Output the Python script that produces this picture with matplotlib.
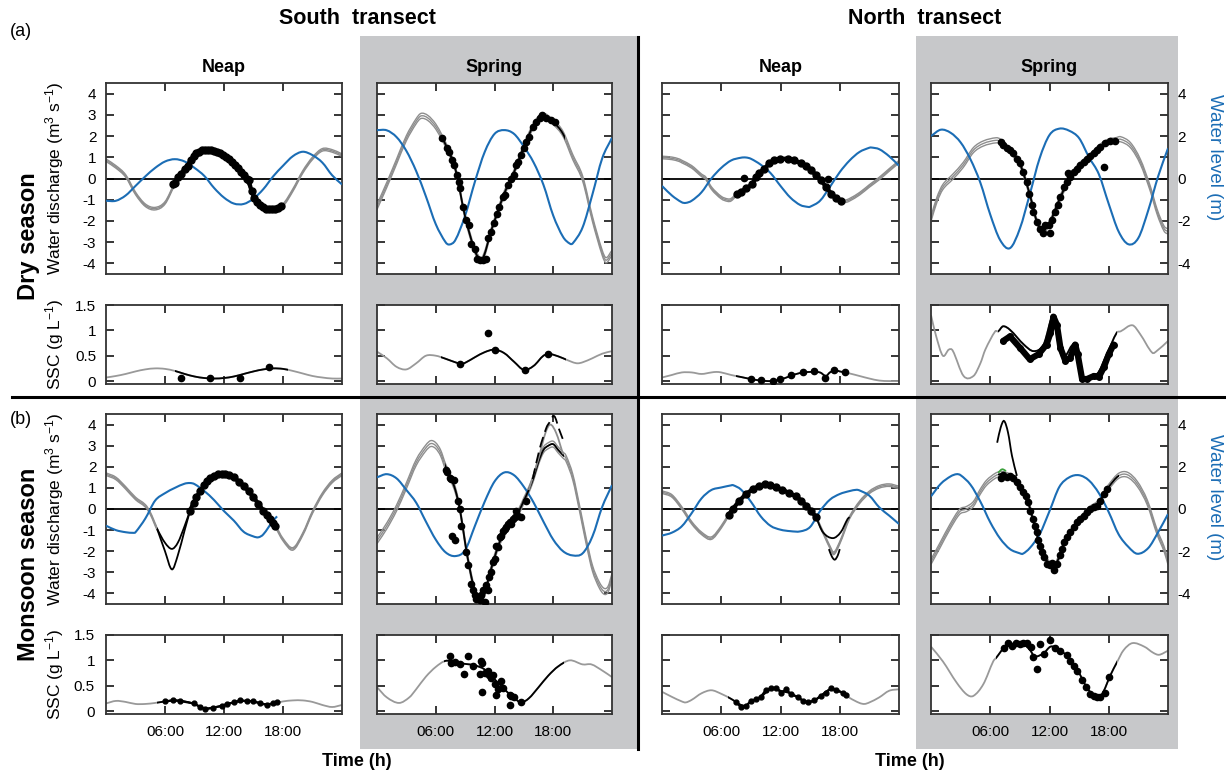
import numpy as np
import matplotlib
matplotlib.use("Agg")
import matplotlib.pyplot as plt
from matplotlib.patches import Rectangle, PathPatch
from matplotlib.path import Path
from matplotlib.lines import Line2D
from matplotlib.ticker import FuncFormatter

plt.rcParams['font.family'] = ['Liberation Sans', 'DejaVu Sans']
plt.rcParams['mathtext.default'] = 'regular'
plt.rcParams['axes.unicode_minus'] = False

hours = list(range(25))

# ---------------- dry season, south transect, neap ----------------
dsn_wl = [-1.05, -1.05, -0.8, -0.35, 0.1, 0.5, 0.8, 0.91, 0.8, 0.5, 0.12, -0.45, -0.9,
          -1.18, -1.2, -0.95, -0.5, 0.1, 0.6, 1.05, 1.26, 1.1, 0.75, 0.15, -0.28]
dsn_q = [0.86, 0.55, 0.12, -0.7, -1.26, -1.42, -1.15, -0.25, 0.5, 1.1, 1.35, 1.3, 1.05,
         0.7, 0.15, -0.75, -1.34, -1.44, -1.25, -0.55, 0.3, 0.95, 1.35, 1.3, 1.1]
dsn_win = (6.8, 17.9)
dsn_dots_t = [6.8, 7.0, 7.3, 7.6, 8.0, 8.3, 8.6, 8.9, 9.2, 9.5, 9.8, 10.1, 10.4, 10.7, 11.0,
              11.3, 11.6, 11.9, 12.2, 12.5, 12.8, 13.1, 13.4, 13.7, 14.0, 14.3, 14.5, 14.8,
              15.1, 15.4, 15.7, 16.0, 16.3, 16.6, 16.9, 17.2, 17.5, 17.8]
dsn_dots_q = [-0.28, -0.2, 0.05, 0.2, 0.45, 0.6, 0.85, 1.05, 1.2, 1.27, 1.32, 1.35, 1.36, 1.33,
              1.3, 1.25, 1.18, 1.1, 1.02, 0.92, 0.8, 0.65, 0.5, 0.3, 0.15, 0.0, -0.05, -0.6,
              -0.9, -1.1, -1.25, -1.35, -1.42, -1.46, -1.45, -1.42, -1.38, -1.28]
dsn_ssc = [0.07, 0.1, 0.14, 0.19, 0.23, 0.25, 0.24, 0.2, 0.14, 0.09, 0.06, 0.05, 0.06, 0.09,
           0.14, 0.19, 0.23, 0.25, 0.24, 0.2, 0.15, 0.1, 0.07, 0.05, 0.05]
dsn_swin = (7.0, 18.5)
dsn_sdots_t = [7.6, 10.6, 13.6, 16.6]
dsn_sdots = [0.07, 0.06, 0.07, 0.27]

# ---------------- dry season, south transect, spring ----------------
dss_wl_t = [0, 1, 2, 3, 4, 5, 6, 7, 7.4, 8, 9, 10, 11, 12, 13, 14, 15, 16, 17, 18, 19, 19.7,
            20, 21, 22, 23, 24]
dss_wl = [2.28, 2.27, 1.95, 1.3, 0.35, -0.85, -2.15, -3.0, -3.11, -2.9, -1.75, -0.15, 1.25,
          2.1, 2.28, 2.1, 1.5, 0.75, -0.3, -1.75, -2.75, -3.07, -3.05, -2.3, -0.75, 0.95, 1.92]
dss_q_t = [0, 1, 2, 3, 4, 4.5, 5.2, 6, 6.67, 7, 8, 9, 10, 10.65, 11.1, 11.5, 12, 13, 13.7, 14,
           15, 16, 16.9, 18, 19, 20, 21, 22, 23, 23.4, 24]
dss_q = [-1.34, -0.3, 0.8, 1.9, 2.7, 2.95, 2.85, 2.45, 1.9, 1.6, 0.45, -1.8, -3.4, -3.85, -3.4,
         -2.7, -2.0, -0.7, 0.0, 0.3, 1.5, 2.5, 2.95, 2.65, 2.1, 1.0, 0.0, -1.9, -3.5, -3.85, -3.5]
dss_win = (6.6, 19.25)
dss_dots_t = [6.67, 7.14, 7.4, 7.69, 7.9, 8.16, 8.37, 8.5, 8.78, 9.1, 9.35, 9.63, 9.97, 10.2,
              10.48, 10.8, 11.1, 11.3, 11.67, 11.9, 12.24, 12.5, 12.86, 13.1, 13.37, 13.7,
              13.95, 14.2, 14.45, 14.7, 14.97, 15.24, 15.5, 15.9, 16.26, 16.6, 16.87, 17.28,
              17.8, 18.13]
dss_dots_q = [1.89, 1.42, 1.26, 0.86, 0.63, 0.16, -0.16, -0.47, -1.34, -1.97, -2.2, -3.07, -3.3,
              -3.77, -3.85, -3.85, -3.77, -2.8, -2.52, -2.08, -1.65, -1.34, -0.86, -0.79, -0.31,
              0.0, 0.16, 0.63, 0.79, 1.1, 1.42, 1.73, 1.97, 2.44, 2.67, 2.86, 2.99, 2.86, 2.75,
              2.64]
dss_ssc_t = [0, 1, 2, 3, 4, 5, 6, 7, 8, 8.6, 9, 10, 11, 12, 13, 14, 15, 16, 17, 17.6, 18, 19,
             20, 20.5, 21, 22, 23, 24]
dss_ssc = [0.58, 0.45, 0.28, 0.23, 0.35, 0.5, 0.5, 0.44, 0.37, 0.34, 0.36, 0.47, 0.57, 0.62,
           0.55, 0.38, 0.22, 0.3, 0.5, 0.53, 0.52, 0.45, 0.37, 0.35, 0.37, 0.45, 0.54, 0.59]
dss_swin = (6.5, 19.3)
dss_sdots_t = [8.5, 11.3, 12.0, 15.1, 17.5]
dss_sdots = [0.34, 0.94, 0.62, 0.21, 0.53]

# ---------------- dry season, north transect, neap ----------------
dnn_wl_t = [0, 1, 2, 2.4, 3, 4, 5, 6, 7, 8, 8.5, 9, 10, 11, 12, 13, 14, 14.8, 15, 16, 17, 18,
            19, 20, 21, 21.2, 22, 23, 24]
dnn_wl = [-0.35, -0.8, -1.12, -1.15, -1.05, -0.65, 0.0, 0.5, 0.85, 0.98, 0.99, 0.93, 0.65, 0.25,
          -0.35, -0.9, -1.25, -1.34, -1.33, -1.05, -0.4, 0.3, 0.85, 1.25, 1.45, 1.46, 1.38,
          1.05, 0.6]
dnn_q_t = [0, 1, 1.75, 2, 3, 4, 4.45, 5, 6, 6.65, 7, 7.57, 8, 9, 10, 11, 12, 13, 14, 15, 16,
           17, 18, 18.6, 19, 20, 21, 22, 23, 24]
dnn_q = [0.99, 0.95, 0.86, 0.8, 0.55, 0.15, 0.0, -0.45, -0.9, -1.02, -1.0, -0.75, -0.63, -0.3,
         0.3, 0.75, 0.92, 0.9, 0.73, 0.42, -0.03, -0.63, -1.05, -1.07, -1.0, -0.72, -0.35, 0.0,
         0.4, 0.79]
dnn_win = (7.5, 18.3)
dnn_dots_t = [7.57, 8.0, 8.51, 9.12, 9.53, 9.86, 10.37, 10.88, 11.39, 11.9, 12.74, 13.41, 14.09,
              14.6, 15.1, 15.6, 16.1, 16.6, 17.13, 17.64, 18.14]
dnn_dots_q = [-0.75, -0.63, -0.47, -0.28, 0.08, 0.24, 0.47, 0.71, 0.86, 0.91, 0.94, 0.86, 0.71,
              0.6, 0.39, 0.16, -0.08, -0.39, -0.71, -0.94, -1.07]
dnn_xdots_t = [8.3, 16.8]
dnn_xdots_q = [0.03, 0.0]
dnn_ssc_t = [0, 1, 2, 3, 4, 5, 5.5, 6, 7, 8, 9, 10, 11, 12, 13, 14, 15, 16, 16.6, 17, 17.5, 18,
             19, 20, 21, 22, 23, 24]
dnn_ssc = [0.07, 0.12, 0.17, 0.17, 0.14, 0.17, 0.18, 0.17, 0.12, 0.08, 0.04, 0.01, 0.0, 0.03,
           0.1, 0.16, 0.18, 0.17, 0.1, 0.17, 0.21, 0.19, 0.15, 0.1, 0.05, 0.01, 0.0, 0.0]
dnn_swin = (7.5, 18.6)
dnn_sdots_t = [9.0, 10.0, 11.2, 11.9, 13.1, 14.3, 15.4, 16.5, 17.4, 18.5]
dnn_sdots = [0.05, 0.02, 0.0, 0.04, 0.12, 0.17, 0.19, 0.07, 0.22, 0.17]

# ---------------- dry season, north transect, spring ----------------
dns_wl = [2.0, 2.3, 2.15, 1.7, 0.9, -0.2, -1.7, -2.9, -3.28, -2.36, -0.75, 0.95, 2.05, 2.35,
          2.25, 1.9, 1.0, 0.2, -1.2, -2.5, -3.1, -2.8, -1.5, 0.1, 1.42]
dns_q_t = [0, 0.6, 1.2, 2.2, 3.25, 4.3, 5.3, 6.6, 7.05, 8, 9, 10, 10.7, 11.3, 12, 13, 14, 15,
           16, 17, 18, 18.7, 19.2, 20.2, 21.2, 22.2, 22.9, 23.6, 24]
dns_q = [-1.9, -1.0, -0.4, 0.08, 0.63, 1.34, 1.65, 1.8, 1.73, 1.3, 0.7, -0.75, -2.0, -2.45,
         -2.1, -1.0, 0.0, 0.6, 1.0, 1.45, 1.75, 1.8, 1.85, 1.57, 0.79, -0.47, -1.57, -2.36, -2.5]
dns_win = (7.0, 18.7)
dns_dots_t = [7.05, 7.32, 7.66, 8.0, 8.34, 8.68, 9.02, 9.36, 9.69, 9.97, 10.2, 10.37, 10.71,
              11.05, 11.32, 11.56, 11.9, 12.24, 12.58, 12.85, 13.08, 13.42, 13.76, 14.1, 14.44,
              14.78, 15.12, 15.46, 15.8, 16.14, 16.47, 16.81, 17.15, 17.66, 18.17, 18.68]
dns_dots_q = [1.73, 1.57, 1.42, 1.34, 1.18, 0.94, 0.71, 0.31, -0.16, -0.71, -1.26, -1.57, -2.04,
              -2.36, -2.59, -2.2, -2.2, -1.97, -1.57, -1.26, -0.86, -0.39, -0.16, 0.08, 0.31,
              0.47, 0.63, 0.79, 0.94, 1.07, 1.18, 1.34, 1.49, 1.65, 1.76, 1.78]
dns_xdots_t = [12.0, 13.83, 17.5]
dns_xdots_q = [-2.55, 0.28, 0.55]
dns_ssc_t = [0, 0.5, 1.2, 1.8, 2.2, 3.3, 4.3, 5.0, 5.5, 6.5, 6.8, 7.3, 8, 9.4, 10.4, 11.4,
             12.4, 12.9, 13.4, 14.6, 15.1, 16.8, 17.8, 18.8, 19.2, 20.4, 21.2, 22.4, 22.9, 24]
dns_ssc = [1.3, 0.9, 0.5, 0.62, 0.6, 0.1, 0.1, 0.35, 0.62, 0.98, 0.98, 1.08, 1.01, 0.72, 0.59,
           0.72, 1.29, 0.72, 0.46, 0.72, 0.14, 0.14, 0.53, 0.95, 0.98, 1.1, 0.92, 0.56, 0.6, 0.79]
dns_swin = (6.8, 18.8)
dns_sdots_t = [7.3, 8.0, 9.0, 10.0, 10.9, 11.7, 12.1, 12.4, 12.75, 13.1, 13.6, 14.1, 14.6,
               14.85, 15.3, 15.8, 16.5, 17.0, 17.5, 18.0, 18.5]
dns_sdots = [0.79, 0.88, 0.66, 0.43, 0.53, 0.72, 0.95, 1.27, 1.11, 0.66, 0.4, 0.46, 0.72, 0.53,
             0.04, 0.04, 0.1, 0.08, 0.27, 0.53, 0.72]

# ---------------- monsoon season, south transect, neap ----------------
msn_wl_t = [0, 1, 2, 2.8, 3, 4, 5, 6, 7, 8, 8.55, 9, 10, 11, 12, 13, 14, 15, 15.5, 16, 17, 17.4]
msn_wl = [-0.79, -1.0, -1.1, -1.13, -1.1, -0.45, 0.4, 0.75, 1.0, 1.2, 1.23, 1.18, 0.85, 0.42,
          -0.1, -0.55, -1.08, -1.3, -1.34, -1.2, -0.55, -0.35]
msn_q_t = [0, 1, 2, 3, 4, 4.5, 5.2, 6, 6.7, 7.3, 8, 8.55, 9, 10, 11, 12, 13, 14, 15, 16, 17,
           17.2, 18, 19, 20, 21, 22, 23, 24]
msn_q = [1.65, 1.45, 1.0, 0.5, 0.15, -0.2, -0.94, -1.6, -1.89, -1.6, -0.8, -0.08, 0.45, 1.2,
         1.6, 1.68, 1.5, 1.1, 0.55, -0.08, -0.65, -0.79, -1.45, -1.89, -1.2, -0.15, 0.7, 1.3, 1.65]
msn_win = (5.2, 17.3)
msn_low_t = [5.2, 6, 6.7, 7.3, 8, 8.55]
msn_low_q = [-0.94, -2.0, -2.86, -2.2, -1.0, -0.08]
msn_dots_t = [8.55, 8.9, 9.2, 9.6, 10.0, 10.3, 10.6, 11.0, 11.4, 11.8, 12.1, 12.5, 13.0, 13.5,
              14.0, 14.5, 15.0, 15.5, 16.0, 16.4, 16.7, 17.0, 17.2]
msn_dots_q = [-0.08, 0.3, 0.55, 0.85, 1.15, 1.35, 1.45, 1.58, 1.65, 1.68, 1.68, 1.6, 1.5, 1.3,
              1.1, 0.85, 0.55, 0.25, -0.08, -0.3, -0.47, -0.65, -0.79]
msn_ssc = [0.15, 0.2, 0.18, 0.14, 0.14, 0.16, 0.19, 0.21, 0.19, 0.14, 0.05, 0.07, 0.12, 0.17,
           0.2, 0.19, 0.14, 0.15, 0.19, 0.21, 0.21, 0.18, 0.12, 0.08, 0.12]
msn_swin = (5.2, 17.4)
msn_sdots_t = [6.0, 6.8, 7.5, 8.9, 9.6, 10.1, 10.9, 11.8, 12.3, 13.0, 13.6, 14.3, 15.0, 15.7,
               16.4, 17.0, 17.4]
msn_sdots = [0.19, 0.21, 0.2, 0.15, 0.08, 0.04, 0.07, 0.1, 0.14, 0.17, 0.21, 0.2, 0.19, 0.15,
             0.12, 0.15, 0.17]

# ---------------- monsoon season, south transect, spring ----------------
mss_wl = [1.5, 1.65, 1.45, 0.9, 0.3, -0.6, -1.45, -2.05, -2.23, -1.95, -0.8, 0.35, 1.3, 1.73,
          1.6, 1.05, 0.3, -0.6, -1.45, -2.0, -2.2, -2.1, -1.3, 0.1, 1.13]
mss_q_t = [0, 1, 2, 3, 4, 5, 5.5, 6, 6.5, 7, 7.5, 8, 8.5, 9, 9.5, 10, 10.5, 11, 11.5, 12, 12.5,
           13, 13.5, 14, 14.5, 15, 15.5, 16, 16.5, 17, 17.5, 18, 18.5, 19, 19.3, 20, 20.7, 21.4,
           22, 22.7, 23.2, 23.6, 24]
mss_q = [-1.5, -0.8, 0.05, 1.1, 2.2, 2.9, 3.1, 3.0, 2.65, 2.0, 1.5, 0.9, -0.1, -1.6, -2.9, -3.9,
         -4.3, -4.0, -3.1, -2.3, -1.6, -1.15, -0.8, -0.45, -0.1, 0.4, 0.9, 1.5, 2.25, 2.8, 3.0,
         3.07, 2.8, 2.55, 2.4, 1.5, 0.0, -1.6, -2.8, -3.6, -3.9, -3.8, -3.2]
mss_win = (6.9, 19.05)
mss_dash_t = [15.9, 16.6, 17.3, 17.6, 18.1, 18.6, 19.05]
mss_dash_q = [1.42, 2.83, 3.85, 4.09, 4.4, 3.77, 3.22]
mss_hi_t = [15.5, 16.5, 17.2, 17.7, 18.3, 19.0]
mss_hi_q = [0.9, 2.4, 3.6, 4.0, 3.6, 2.6]
mss_dots_t = [7.01, 7.14, 7.41, 7.59, 7.82, 7.69, 7.93, 8.27, 8.44, 8.61, 9.12, 9.29, 9.63, 9.8,
              9.97, 10.14, 10.31, 10.48, 10.65, 10.82, 10.99, 11.16, 11.33, 11.43, 11.67, 11.84,
              12.01, 12.18, 12.35, 12.52, 12.69, 12.86, 13.03, 13.2, 13.37, 13.54, 13.71, 13.88,
              14.05, 14.22, 14.39, 14.73, 15.24]
mss_dots_q = [1.84, 1.73, 1.49, 1.42, 1.38, -1.26, -1.45, 0.39, 0.0, -0.79, -2.04, -2.67, -3.54,
              -3.85, -4.09, -4.25, -4.17, -4.32, -4.09, -3.85, -4.4, -3.62, -3.85, -3.22, -2.99,
              -2.52, -2.36, -1.73, -1.81, -1.34, -1.26, -1.02, -0.94, -0.86, -0.71, -0.63, -0.71,
              -0.47, -0.39, -0.08, -0.31, -0.39, 0.39]
mss_ssc_t = [0, 1, 2.25, 3.3, 4, 5, 6, 7, 8, 9, 10, 11, 12, 13, 14, 14.7, 15.5, 16.5, 17.5,
             18.5, 19.7, 21, 21.9, 23, 24]
mss_ssc = [0.47, 0.27, 0.16, 0.27, 0.43, 0.68, 0.87, 0.99, 0.96, 0.93, 0.9, 0.82, 0.63, 0.43,
           0.26, 0.17, 0.25, 0.47, 0.7, 0.88, 1.0, 0.92, 0.92, 0.8, 0.67]
mss_swin = (6.8, 19.1)
mss_sdots_t = [7.41, 7.59, 7.93, 8.44, 8.84, 9.29, 9.8, 10.48, 10.65, 10.75, 10.7, 10.99, 11.33,
               11.43, 11.67, 11.84, 12.01, 12.18, 12.35, 12.69, 12.86, 13.54, 13.71, 13.95,
               13.54, 14.73]
mss_sdots = [1.08, 0.95, 0.97, 0.92, 0.74, 1.08, 0.88, 0.74, 0.98, 0.95, 0.38, 0.75, 0.79, 0.72,
             0.66, 0.72, 0.54, 0.31, 0.43, 0.59, 0.46, 0.32, 0.3, 0.27, 0.12, 0.17]

# ---------------- monsoon season, north transect, neap ----------------
mnn_wl_t = [0, 1, 2, 3, 4, 5, 6, 7, 7.2, 8, 9, 10, 11, 12, 13, 14, 15, 16, 17, 18, 19, 19.7,
            20, 21, 22, 23, 24]
mnn_wl = [-1.26, -1.12, -0.82, -0.2, 0.5, 0.9, 1.02, 1.12, 1.13, 0.92, 0.35, -0.35, -0.8,
          -0.98, -1.05, -1.06, -0.85, -0.1, 0.44, 0.71, 0.85, 0.91, 0.88, 0.63, 0.08, -0.31, -0.71]
mnn_q_t = [0, 1, 2, 3, 4, 5, 6, 6.75, 7, 8, 9, 10, 10.5, 11, 12, 13, 14, 15, 15.6, 16, 16.5,
           17, 17.4, 18, 18.5, 19, 20, 21, 22, 23, 24]
mnn_q = [0.8, 0.62, 0.05, -0.65, -1.15, -1.38, -0.85, -0.28, -0.1, 0.45, 0.88, 1.12, 1.18, 1.12,
         0.94, 0.73, 0.43, -0.03, -0.39, -0.8, -1.3, -1.8, -2.1, -1.6, -1.0, -0.4, 0.31, 0.79,
         1.05, 1.13, 1.02]
mnn_win = (6.75, 15.6)
mnn_up_t = [15.6, 16.3, 17.3, 18.1, 18.8, 19.0]
mnn_up_q = [-0.39, -1.1, -1.38, -1.1, -0.47, -0.39]
mnn_low_t = [16.9, 17.2, 17.5, 17.8, 18.0]
mnn_low_q = [-1.9, -2.25, -2.4, -2.2, -1.9]
mnn_dots_t = [6.75, 7.16, 7.84, 8.5, 9.2, 9.86, 10.4, 10.9, 11.55, 12.2, 12.9, 13.6, 14.1, 14.6,
              15.1, 15.6]
mnn_dots_q = [-0.28, 0.0, 0.39, 0.71, 0.94, 1.1, 1.18, 1.13, 1.02, 0.91, 0.75, 0.6, 0.39, 0.16,
              -0.08, -0.39]
mnn_ssc_t = [0, 1, 2, 2.4, 3, 4, 5, 6, 7, 8, 8.5, 9, 10, 11, 11.5, 12, 13, 14, 14.8, 15.5, 16,
             17, 17.6, 18.3, 19, 20, 20.5, 21, 22, 23, 24]
mnn_ssc = [0.38, 0.28, 0.19, 0.17, 0.22, 0.35, 0.41, 0.34, 0.24, 0.12, 0.11, 0.18, 0.28, 0.44,
           0.45, 0.4, 0.35, 0.24, 0.18, 0.21, 0.29, 0.43, 0.42, 0.36, 0.26, 0.16, 0.14, 0.17,
           0.27, 0.4, 0.43]
mnn_swin = (6.65, 18.7)
mnn_sdots_t = [7.5, 8.0, 8.5, 9.0, 9.5, 10.0, 10.5, 11.05, 11.55, 12.06, 12.57, 13.07, 13.75,
               14.26, 14.76, 15.44, 16.1, 16.6, 17.1, 17.6, 18.3, 18.65]
mnn_sdots = [0.17, 0.08, 0.1, 0.2, 0.23, 0.28, 0.41, 0.45, 0.46, 0.36, 0.43, 0.33, 0.28, 0.2,
             0.17, 0.21, 0.3, 0.36, 0.45, 0.41, 0.36, 0.32]

# ---------------- monsoon season, north transect, spring ----------------
mns_wl_t = [0, 1, 2, 2.6, 3, 4, 5, 6, 7, 8, 9, 9.3, 10, 11, 12, 13, 14, 15, 16, 17, 18, 19, 20,
            20.9, 22, 23, 24]
mns_wl = [0.6, 1.2, 1.55, 1.65, 1.6, 1.15, 0.35, -0.63, -1.4, -1.9, -2.1, -2.12, -1.85, -1.2,
          -0.1, 1.05, 1.5, 1.6, 1.35, 0.75, -0.15, -1.2, -1.8, -2.12, -1.85, -1.1, -0.24]
mns_q_t = [0, 0.9, 1.9, 2.9, 3.6, 4.3, 4.95, 5.6, 6.5, 7.0, 7.6, 8.3, 9, 9.8, 10.5, 11.2, 12,
           12.5, 13, 13.5, 14, 15, 16, 17, 17.5, 18, 19, 19.9, 20.9, 21.9, 22.9, 23.6, 24]
mns_q = [-2.5, -1.73, -0.86, -0.13, 0.0, 0.24, 0.79, 1.23, 1.57, 1.65, 1.62, 1.45, 1.0, 0.35,
         -0.8, -2.0, -2.6, -2.7, -2.25, -1.55, -1.2, -0.55, -0.03, 0.3, 0.7, 1.05, 1.57, 1.62,
         1.18, 0.31, -1.1, -1.89, -2.52]
mns_win = (6.8, 19.0)
mns_spike_t = [6.7, 7.05, 7.4, 7.8, 8.2, 8.7]
mns_spike_q = [3.14, 3.85, 4.17, 3.62, 2.52, 1.57]
mns_green_t = [6.8, 7.2, 7.6]
mns_green_q = [1.72, 1.88, 1.8]
mns_dots_t = [7.05, 7.32, 7.66, 8.0, 8.34, 8.68, 9.02, 9.36, 9.63, 9.86, 10.03, 10.3, 10.54,
              10.71, 10.88, 11.05, 11.22, 11.46, 11.73, 12.0, 12.24, 12.47, 12.75, 13.02, 13.25,
              13.42, 13.76, 14.1, 14.44, 14.78, 15.12, 15.46, 15.8, 16.14, 16.47, 16.81, 17.15,
              17.49, 17.83]
mns_dots_q = [1.49, 1.6, 1.53, 1.57, 1.45, 1.26, 1.02, 0.79, 0.6, 0.31, -0.08, -0.47, -0.79,
              -1.1, -1.49, -1.73, -2.04, -2.28, -2.59, -2.64, -2.55, -2.91, -2.59, -2.2, -1.89,
              -1.57, -1.34, -1.1, -0.86, -0.63, -0.47, -0.31, -0.16, 0.0, 0.08, 0.16, 0.39, 0.71,
              0.94]
mns_ssc_t = [0, 1.2, 2.6, 3.6, 4.3, 5.3, 6.3, 6.6, 7.5, 8.3, 9.4, 10.0, 10.5, 11.4, 12.1, 12.75,
             13.8, 14.8, 15.8, 16.6, 17.3, 18.2, 18.8, 19.5, 20.4, 21.6, 22.5, 23.1, 24]
mns_ssc = [1.27, 0.98, 0.56, 0.33, 0.3, 0.53, 0.98, 1.05, 1.27, 1.32, 1.31, 1.21, 1.08, 1.14,
           1.27, 1.24, 1.08, 0.82, 0.46, 0.3, 0.33, 0.72, 0.95, 1.2, 1.34, 1.27, 1.15, 1.11, 1.19]
mns_swin = (6.6, 18.8)
mns_sdots_t = [7.4, 7.83, 8.17, 8.6, 9.0, 9.36, 9.7, 10.1, 10.37, 10.78, 11.05, 11.46, 12.07,
               12.58, 13.08, 13.76, 14.1, 14.44, 14.78, 15.3, 15.73, 16.07, 16.47, 16.81, 17.15,
               17.66, 18.0]
mns_sdots = [1.25, 1.34, 1.29, 1.35, 1.32, 1.34, 1.35, 1.27, 1.06, 0.83, 1.32, 1.12, 1.4, 1.25,
             1.19, 1.1, 0.98, 0.88, 0.79, 0.62, 0.47, 0.34, 0.3, 0.28, 0.28, 0.36, 0.67]

col_titles = ['Neap', 'Spring', 'Neap', 'Spring']
transects = ['South  transect', 'North  transect']
seasons = ['Dry season', 'Monsoon season']
time_ticks = [6, 12, 18]
time_labels = ['06:00', '12:00', '18:00']

BLUE = '#1b6db5'
GREY = '#8e8e8e'
BG = '#c7c8ca'
W, H = 1226, 778

panels = [
    dict(row=0, col=0, wl=(hours, dsn_wl), q=(hours, dsn_q), win=dsn_win, spread=0.06,
         dots=(dsn_dots_t, dsn_dots_q), band=True,
         ssc=(hours, dsn_ssc), swin=dsn_swin, sdots=(dsn_sdots_t, dsn_sdots), sband=False),
    dict(row=0, col=1, wl=(dss_wl_t, dss_wl), q=(dss_q_t, dss_q), win=dss_win, spread=0.12,
         dots=(dss_dots_t, dss_dots_q), band=False,
         ssc=(dss_ssc_t, dss_ssc), swin=dss_swin, sdots=(dss_sdots_t, dss_sdots), sband=False),
    dict(row=0, col=2, wl=(dnn_wl_t, dnn_wl), q=(dnn_q_t, dnn_q), win=dnn_win, spread=0.06,
         dots=(dnn_dots_t, dnn_dots_q), band=True, xdots=(dnn_xdots_t, dnn_xdots_q),
         ssc=(dnn_ssc_t, dnn_ssc), swin=dnn_swin, sdots=(dnn_sdots_t, dnn_sdots), sband=False),
    dict(row=0, col=3, wl=(hours, dns_wl), q=(dns_q_t, dns_q), win=dns_win, spread=0.12,
         dots=(dns_dots_t, dns_dots_q), band=False, xdots=(dns_xdots_t, dns_xdots_q),
         ssc=(dns_ssc_t, dns_ssc), swin=dns_swin, sdots=(dns_sdots_t, dns_sdots), sband='thick'),
    dict(row=1, col=0, wl=(msn_wl_t, msn_wl), q=(msn_q_t, msn_q), win=msn_win, spread=0.06,
         gray_out=True, dots=(msn_dots_t, msn_dots_q), band=True,
         extra=[(msn_low_t, msn_low_q, 'k', '-')],
         ssc=(hours, msn_ssc), swin=msn_swin, sdots=(msn_sdots_t, msn_sdots), sband=True),
    dict(row=1, col=1, wl=(hours, mss_wl), q=(mss_q_t, mss_q), win=mss_win, spread=0.14,
         dots=(mss_dots_t, mss_dots_q), band=False,
         extra=[(mss_hi_t, mss_hi_q, GREY, '-'), (mss_dash_t, mss_dash_q, 'k', (0, (6, 3)))],
         ssc=(mss_ssc_t, mss_ssc), swin=mss_swin, sdots=(mss_sdots_t, mss_sdots), sband=False),
    dict(row=1, col=2, wl=(mnn_wl_t, mnn_wl), q=(mnn_q_t, mnn_q), win=mnn_win, spread=0.06,
         dots=(mnn_dots_t, mnn_dots_q), band=True,
         extra=[(mnn_up_t, mnn_up_q, 'k', '-'), (mnn_low_t, mnn_low_q, 'k', '-')],
         ssc=(mnn_ssc_t, mnn_ssc), swin=mnn_swin, sdots=(mnn_sdots_t, mnn_sdots), sband=True),
    dict(row=1, col=3, wl=(mns_wl_t, mns_wl), q=(mns_q_t, mns_q), win=mns_win, spread=0.12,
         dots=(mns_dots_t, mns_dots_q), band=False,
         extra=[(mns_spike_t, mns_spike_q, 'k', '-'), (mns_green_t, mns_green_q, '#3aa03a', '-')],
         ssc=(mns_ssc_t, mns_ssc), swin=mns_swin, sdots=(mns_sdots_t, mns_sdots), sband=False),
]

col_px = [(106, 342), (377, 612), (662, 899), (931, 1168)]
q_px = [(83, 274), (414, 604)]
ssc_px = [(305, 384), (635, 714)]


def add_ax(fig, xs, ys):
    x0, x1 = xs
    y0, y1 = ys
    return fig.add_axes([x0 / W, 1 - y1 / H, (x1 - x0) / W, (y1 - y0) / H])


def curve(ax, t, y, color, lw=1.3, ls='-', zorder=2, win=None):
    # smooth drawing of the read points (cubic Hermite segments through every point)
    t = np.asarray(t, dtype=float)
    y = np.asarray(y, dtype=float)
    n = len(t)
    s = np.empty(n)
    s[1:-1] = (y[2:] - y[:-2]) / (t[2:] - t[:-2])
    s[0] = (y[1] - y[0]) / (t[1] - t[0])
    s[-1] = (y[-1] - y[-2]) / (t[-1] - t[-2])
    verts = [(t[0], y[0])]
    codes = [Path.MOVETO]
    for i in range(n - 1):
        h = t[i + 1] - t[i]
        verts += [(t[i] + h / 3, y[i] + s[i] * h / 3),
                  (t[i + 1] - h / 3, y[i + 1] - s[i + 1] * h / 3),
                  (t[i + 1], y[i + 1])]
        codes += [Path.CURVE4] * 3
    patch = PathPatch(Path(verts, codes), fill=False, edgecolor=color, lw=lw, ls=ls,
                      zorder=zorder, capstyle='butt')
    ax.add_patch(patch)
    if win is not None:
        patch.set_clip_path(Rectangle((win[0], -10), win[1] - win[0], 20, transform=ax.transData))
    return patch


def style(ax):
    ax.set_xlim(0, 24)
    ax.set_xticks(time_ticks)
    ax.tick_params(direction='in', top=True, right=True, length=5.5, width=1.1,
                   labelbottom=False, labelleft=False, labelsize=11, pad=7)
    for s in ax.spines.values():
        s.set_color('#333333')
        s.set_linewidth(1.3)


fig = plt.figure(figsize=(W / 100, H / 100), dpi=100)

# grey background behind the spring columns
for x0, x1 in ((360, 637), (916, 1178)):
    fig.add_artist(Rectangle((x0 / W, 1 - 749 / H), (x1 - x0) / W, (749 - 36) / H,
                             transform=fig.transFigure, color=BG, zorder=-5, lw=0))

for p in panels:
    r, c = p['row'], p['col']
    axq = add_ax(fig, col_px[c], q_px[r])
    axs = add_ax(fig, col_px[c], ssc_px[r])
    style(axq)
    style(axs)

    # discharge panel
    axq.axhline(0, color='k', lw=1.3, zorder=1)
    t = np.asarray(p['q'][0], dtype=float)
    q = np.asarray(p['q'][1], dtype=float)
    for d in (-p['spread'], 0.0, p['spread']):
        if p.get('gray_out'):
            for a, b in ((-1, p['win'][0]), (p['win'][1], 25)):
                curve(axq, t, q + d, GREY, lw=1.0, zorder=2, win=(a, b))
        else:
            curve(axq, t, q + d, GREY, lw=1.0, zorder=2)
    curve(axq, p['wl'][0], p['wl'][1], BLUE, lw=1.5, zorder=3)
    curve(axq, t, q, 'k', lw=1.3, zorder=4, win=p['win'])
    for et, eq, ec, els in p.get('extra', []):
        curve(axq, et, eq, ec, lw=1.3, ls=els, zorder=4)
    if p['band']:
        axq.plot(p['dots'][0], p['dots'][1], '-o', color='k', lw=3, ms=5, zorder=5)
    else:
        axq.plot(p['dots'][0], p['dots'][1], 'o', color='k', ms=4.5, zorder=5)
    if 'xdots' in p:
        axq.plot(p['xdots'][0], p['xdots'][1], 'o', color='k', ms=4.5, zorder=5)
    axq.set_ylim(-4.5, 4.5)
    axq.set_yticks(range(-4, 5))

    # SSC panel
    curve(axs, p['ssc'][0], p['ssc'][1], '#999999', lw=1.3, zorder=2)
    curve(axs, p['ssc'][0], p['ssc'][1], 'k', lw=1.3, zorder=3, win=p['swin'])
    if p['sband'] == 'thick':
        axs.plot(p['sdots'][0], p['sdots'][1], '-o', color='k', lw=4.5, ms=4, zorder=4,
                 solid_capstyle='round')
    elif p['sband']:
        axs.plot(p['sdots'][0], p['sdots'][1], '-o', color='k', lw=1.6, ms=3.5, zorder=4)
    else:
        axs.plot(p['sdots'][0], p['sdots'][1], 'o', color='k', ms=4.5, zorder=4)
    axs.set_ylim(-0.058, 1.5)
    axs.set_yticks([0, 0.5, 1, 1.5])
    axs.set_yticklabels(['0', '0.5', '1', '1.5'])

    if c == 0:
        axq.tick_params(labelleft=True)
        axs.tick_params(labelleft=True)
        axq.set_ylabel('Water discharge (m$^3$ s$^{-1}$)', fontsize=12.5)
        axs.set_ylabel('SSC (g L$^{-1}$)', fontsize=12.5)
        axq.yaxis.set_label_coords(-0.17, 0.5)
        axs.yaxis.set_label_coords(-0.17, 0.5)
    if c == 3:
        axq.tick_params(labelright=True)
        axq.yaxis.set_major_formatter(FuncFormatter(lambda v, pos: f'{int(v)}' if int(v) % 2 == 0 else ''))
    if r == 1:
        axs.tick_params(labelbottom=True, pad=8)
        axs.set_xticklabels(time_labels)

# dividing lines
fig.add_artist(Line2D([638 / W, 638 / W], [1 - 37 / H, 1 - 749 / H], color='k', lw=2.2,
                      transform=fig.transFigure))
fig.add_artist(Line2D([12 / W, 1.0], [1 - 397 / H, 1 - 397 / H], color='k', lw=2.2,
                      transform=fig.transFigure))

# headings
for (x0, x1), name in zip(col_px, col_titles):
    fig.text((x0 + x1) / 2 / W, 1 - 67 / H, name, ha='center', va='center',
             fontsize=13, fontweight='bold')
for xc, name in zip((357, 925), transects):
    fig.text(xc / W, 1 - 18 / H, name, ha='center', va='center', fontsize=15.5, fontweight='bold')
for yc, name in zip((236, 564), seasons):
    fig.text(29 / W, 1 - yc / H, name, ha='center', va='center', rotation=90,
             fontsize=17, fontweight='bold')
for yc, name in zip((157, 497), ('Water level (m)', 'Water level (m)')):
    fig.text(1214 / W, 1 - yc / H, name, ha='center', va='center', rotation=270,
             fontsize=13.5, color=BLUE)
fig.text(10 / W, 1 - 32 / H, '(a)', ha='left', va='center', fontsize=13)
fig.text(10 / W, 1 - 420 / H, '(b)', ha='left', va='center', fontsize=13)
for xc in (357, 910):
    fig.text(xc / W, 1 - 762 / H, 'Time (h)', ha='center', va='center', fontsize=13,
             fontweight='bold')

fig.savefig('out.png', dpi=100)
